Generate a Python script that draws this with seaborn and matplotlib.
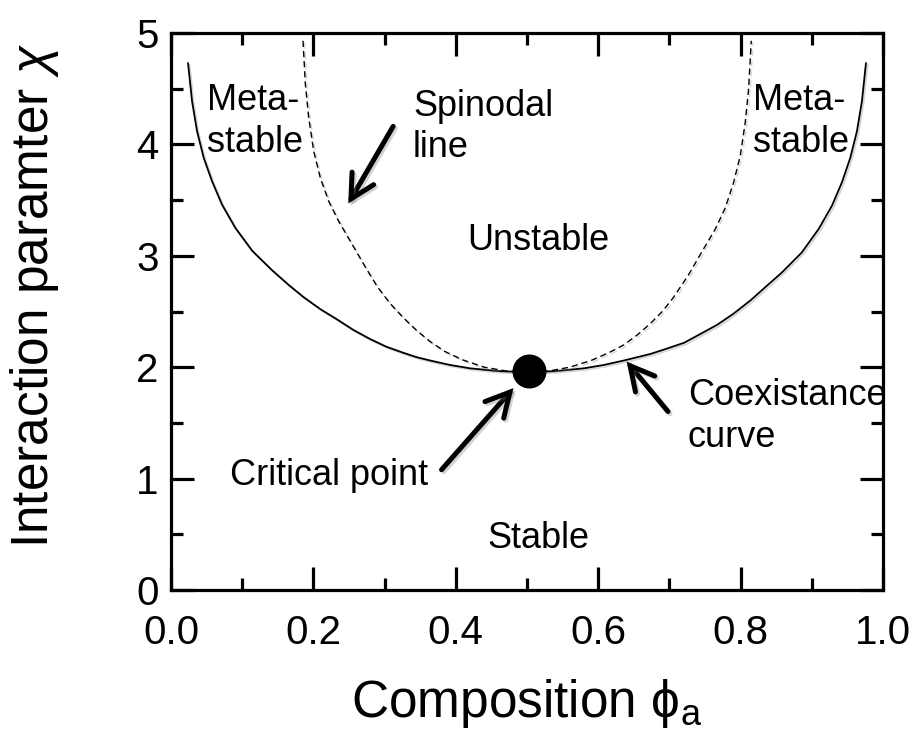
import matplotlib
matplotlib.use("Agg")
import matplotlib.pyplot as plt
import matplotlib.patheffects as pe
from matplotlib.ticker import MultipleLocator
import seaborn as sns

# Coexistence (binodal) curve
binodal_phi = [0.0239, 0.0295, 0.0365, 0.0459, 0.0576, 0.0716, 0.0904, 0.114,
               0.142, 0.165, 0.186, 0.210, 0.233, 0.256, 0.279, 0.302, 0.326,
               0.345, 0.364, 0.392, 0.420, 0.460, 0.500, 0.540, 0.580, 0.608,
               0.636, 0.655, 0.674, 0.698, 0.721, 0.744, 0.767, 0.790, 0.814,
               0.835, 0.858, 0.886, 0.9096, 0.9284, 0.9424, 0.9541, 0.9635,
               0.9705, 0.9761]
binodal_chi = [4.73, 4.39, 4.12, 3.88, 3.67, 3.46, 3.25, 3.045,
               2.87, 2.74, 2.63, 2.52, 2.43, 2.335, 2.255, 2.185, 2.13,
               2.09, 2.06, 2.02, 1.99, 1.965, 1.955, 1.965, 1.99, 2.02,
               2.06, 2.09, 2.12, 2.17, 2.22, 2.30, 2.38, 2.48, 2.60,
               2.72, 2.85, 3.03, 3.24, 3.45, 3.66, 3.88, 4.12,
               4.39, 4.73]

# Spinodal line
spinodal_phi = [0.1854, 0.1887, 0.1934, 0.2004, 0.2097, 0.2215, 0.2355, 0.2542,
                0.2729, 0.290, 0.308, 0.327, 0.345, 0.364, 0.385, 0.410, 0.440,
                0.470, 0.500, 0.530, 0.560, 0.590, 0.615, 0.636, 0.655, 0.673,
                0.690, 0.705, 0.727, 0.746, 0.7645, 0.7785, 0.7903, 0.7996,
                0.8066, 0.8113, 0.8150]
spinodal_chi = [4.93, 4.54, 4.24, 3.94, 3.70, 3.49, 3.31, 3.105,
                2.90, 2.72, 2.57, 2.44, 2.33, 2.23, 2.14, 2.065, 2.00,
                1.967, 1.955, 1.965, 2.00, 2.06, 2.13, 2.20, 2.29, 2.39,
                2.50, 2.62, 2.83, 3.04, 3.24, 3.43, 3.66, 3.90,
                4.20, 4.50, 4.93]

# Critical point
critical_phi = [0.503]
critical_chi = [1.964]

x_ticks = [0.0, 0.2, 0.4, 0.6, 0.8, 1.0]
x_tick_labels = ["0.0", "0.2", "0.4", "0.6", "0.8", "1.0"]
y_ticks = [0, 1, 2, 3, 4, 5]
y_tick_labels = ["0", "1", "2", "3", "4", "5"]

sns.set_theme(style="ticks")
plt.rcParams["font.family"] = ["Liberation Sans", "DejaVu Sans"]
plt.rcParams.update({
    "text.color": "black",
    "axes.labelcolor": "black",
    "xtick.color": "black",
    "ytick.color": "black",
    "mathtext.fontset": "custom",
    "mathtext.rm": "Liberation Sans",
    "mathtext.it": "Liberation Sans:italic",
})

fig = plt.figure(figsize=(9.15, 7.4), dpi=100)
fig.patch.set_facecolor("white")
ax = fig.add_axes([0.1869, 0.2027, 0.7781, 0.7527])
ax.set_facecolor("white")

shadow = [pe.SimpleLineShadow(offset=(1.2, -1.2), shadow_color="0.55", alpha=0.35),
          pe.Normal()]

sns.lineplot(x=binodal_phi, y=binodal_chi, ax=ax, color="black", lw=1.3,
             sort=False, estimator=None)
sns.lineplot(x=spinodal_phi, y=spinodal_chi, ax=ax, color="black", lw=1.0,
             sort=False, estimator=None)
lines = ax.get_lines()
lines[0].set_path_effects(shadow)
lines[0].set_solid_joinstyle("round")
lines[1].set_linestyle((0, (4.5, 2.8)))
lines[1].set_path_effects(shadow)

sns.scatterplot(x=critical_phi, y=critical_chi, ax=ax, color="black", s=600,
                edgecolor="black", linewidth=0, zorder=5)

ax.set_xlim(0, 1.0)
ax.set_ylim(0, 5)
ax.set_xticks(x_ticks)
ax.set_xticklabels(x_tick_labels)
ax.set_yticks(y_ticks)
ax.set_yticklabels(y_tick_labels)
ax.xaxis.set_minor_locator(MultipleLocator(0.1))
ax.yaxis.set_minor_locator(MultipleLocator(0.5))

for side in ["left", "right", "top", "bottom"]:
    ax.spines[side].set_visible(True)
    ax.spines[side].set_linewidth(2.3)
    ax.spines[side].set_color("black")

ax.tick_params(which="both", direction="in", top=True, right=True,
               color="black", width=2.3)
ax.tick_params(which="major", length=16.5, labelsize=29, pad=9)
ax.tick_params(which="minor", length=8.5)
ax.tick_params(axis="x", which="major", pad=17)

ax.set_xlabel("Composition ϕ$_\\mathregular{a}$", fontsize=37, labelpad=18)
ax.set_ylabel("Interaction paramter $\\chi$", fontsize=37)
ax.yaxis.set_label_coords(-0.155, 0.528)

txt = dict(fontsize=26, color="black", va="baseline", ha="left")
ax.text(0.0506, 4.306, "Meta-", **txt)
ax.text(0.0506, 3.932, "stable", **txt)
ax.text(0.8174, 4.306, "Meta-", **txt)
ax.text(0.8174, 3.932, "stable", **txt)
ax.text(0.340, 4.252, "Spinodal", **txt)
ax.text(0.340, 3.887, "line", **txt)
ax.text(0.416, 3.051, "Unstable", **txt)
ax.text(0.0829, 0.945, "Critical point", **txt)
ax.text(0.726, 1.662, "Coexistance", **txt)
ax.text(0.726, 1.286, "curve", **txt)
ax.text(0.445, 0.381, "Stable", **txt)

# Pointer arrows: (tail, head) in data coordinates
arrows = [
    ((0.312, 4.162), (0.249, 3.470)),
    ((0.380, 1.080), (0.481, 1.812)),
    ((0.698, 1.602), (0.640, 2.050)),
]
for tail, head in arrows:
    ax.annotate("", xy=head, xytext=tail,
                arrowprops=dict(arrowstyle="->,head_length=0.85,head_width=0.45",
                                mutation_scale=20, lw=3.6, color="black",
                                shrinkA=0, shrinkB=0, joinstyle="miter",
                                path_effects=[pe.SimpleLineShadow(offset=(1.5, -1.5),
                                                                  shadow_color="0.5",
                                                                  alpha=0.35),
                                              pe.Normal()]))

fig.savefig("out.png", dpi=100, facecolor="white")
